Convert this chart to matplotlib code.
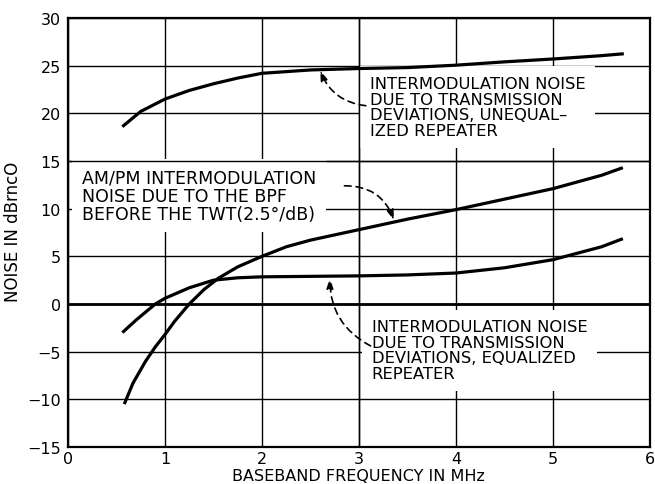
import matplotlib.pyplot as plt

# baseband frequency (MHz) and noise (dBrnc0)
x_uneq = [0.56, 0.75, 1.0, 1.25, 1.5, 1.75, 2.0, 2.5, 3.0, 3.5, 4.0, 4.5, 5.0, 5.5, 5.73]
y_uneq = [18.6, 20.2, 21.5, 22.4, 23.1, 23.7, 24.2, 24.55, 24.7, 24.8, 25.05, 25.4, 25.7, 26.05, 26.25]

x_bpf = [0.58, 0.67, 0.8, 0.9, 1.0, 1.1, 1.25, 1.4, 1.55, 1.75, 2.0, 2.25, 2.5, 3.0, 3.5, 4.0, 4.5, 5.0, 5.5, 5.72]
y_bpf = [-10.5, -8.3, -6.0, -4.5, -3.2, -1.8, 0.0, 1.5, 2.7, 3.9, 5.0, 6.0, 6.7, 7.8, 8.9, 9.9, 11.0, 12.1, 13.5, 14.3]

x_eq = [0.56, 0.7, 0.9, 1.0, 1.25, 1.5, 1.75, 2.0, 2.5, 3.0, 3.5, 4.0, 4.5, 5.0, 5.5, 5.72]
y_eq = [-3.0, -1.7, 0.0, 0.6, 1.7, 2.5, 2.75, 2.85, 2.9, 2.95, 3.05, 3.25, 3.8, 4.65, 6.0, 6.85]

x_ticks = [0, 1, 2, 3, 4, 5, 6]
y_ticks = [-15, -10, -5, 0, 5, 10, 15, 20, 25, 30]

label_uneq = "INTERMODULATION NOISE\nDUE TO TRANSMISSION\nDEVIATIONS, UNEQUAL\u2013\nIZED REPEATER"
label_bpf = "AM/PM INTERMODULATION\nNOISE DUE TO THE BPF\nBEFORE THE TWT(2.5\u00b0/dB)"
label_eq = "INTERMODULATION NOISE\nDUE TO TRANSMISSION\nDEVIATIONS, EQUALIZED\nREPEATER"

fig = plt.figure(figsize=(6.55, 4.85), dpi=100)
ax = fig.add_axes([68 / 655, 1 - 448 / 485, 582 / 655, 429 / 485])

ax.set_xlim(0, 6)
ax.set_ylim(-15, 30)
ax.set_xticks(x_ticks)
ax.set_yticks(y_ticks)
ax.set_xticklabels([str(v) for v in x_ticks])
ax.set_yticklabels([str(v).replace("-", "\u2212") for v in y_ticks])
ax.tick_params(length=0, labelsize=11.5, pad=5)
ax.tick_params(axis="x", pad=3)
ax.grid(True, color="black", linewidth=1.0, zorder=0)
ax.set_axisbelow(True)
for s in ax.spines.values():
    s.set_linewidth(1.6)
    s.set_zorder(5)

ax.axhline(0, color="black", linewidth=2.0, zorder=2.5)
ax.axhline(15, color="black", linewidth=1.0, zorder=2.5)
ax.axvline(3, color="black", linewidth=1.0, zorder=2.5)

box = dict(facecolor="white", edgecolor="none", pad=7)
ax.text(3.11, 23.9, label_uneq, ha="left", va="top", fontsize=11.8, linespacing=1.05, bbox=box, zorder=2)
ax.text(0.14, 14.2, label_bpf, ha="left", va="top", fontsize=12.5, linespacing=1.0, bbox=box, zorder=2)
ax.text(3.13, -1.6, label_eq, ha="left", va="top", fontsize=11.8, linespacing=1.05, bbox=box, zorder=2)

ax.plot(x_uneq, y_uneq, color="black", linewidth=2.3, solid_capstyle="butt", zorder=3)
ax.plot(x_bpf, y_bpf, color="black", linewidth=2.3, solid_capstyle="butt", zorder=3)
ax.plot(x_eq, y_eq, color="black", linewidth=2.3, solid_capstyle="butt", zorder=3)

arrow = dict(arrowstyle="-|>,head_length=0.6,head_width=0.2", color="black",
             linewidth=1.2, linestyle=(0, (4, 3)), shrinkA=0, shrinkB=0)
ax.annotate("", xy=(2.60, 24.5), xytext=(3.07, 20.8),
            arrowprops=dict(arrow, connectionstyle="arc3,rad=-0.3"), zorder=4)
ax.annotate("", xy=(3.36, 8.8), xytext=(2.85, 12.4),
            arrowprops=dict(arrow, connectionstyle="arc3,rad=-0.35"), zorder=4)
ax.annotate("", xy=(2.70, 2.7), xytext=(3.12, -4.4),
            arrowprops=dict(arrow, connectionstyle="arc3,rad=-0.3"), zorder=4)

fig.text(358 / 655, 1 - 469 / 485, "BASEBAND FREQUENCY IN MHz", ha="center", va="top", fontsize=11.5)
fig.text(13 / 655, 1 - 232 / 485, "NOISE IN dBrncO", ha="center", va="center", rotation=90, fontsize=12)

fig.savefig("out.png", dpi=100)
